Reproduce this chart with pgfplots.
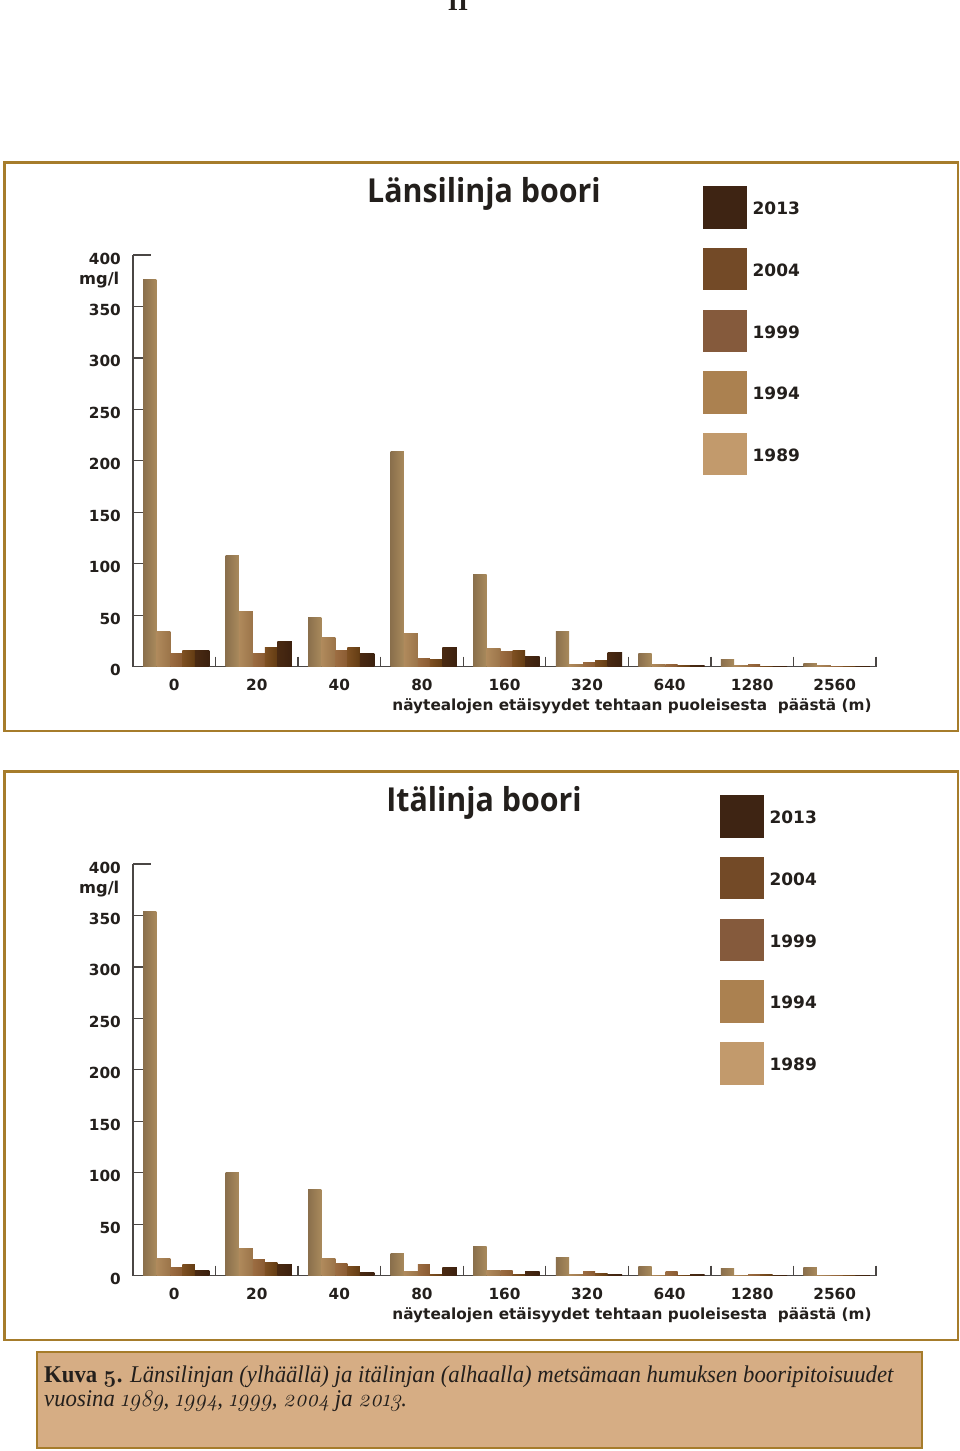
\documentclass[border=0pt]{standalone}
\usepackage{pgfplots}
\usepackage{pgfplotstable}
\usepackage{fontspec}
\pgfplotsset{compat=1.18}
\newfontfamily\dvb{DejaVu Sans Bold}
\newfontfamily\ttl{Open Sans}[BoldFont={Open Sans Bold}]
\newfontfamily\capf{Liberation Serif}
\newfontfamily\lmos{Latin Modern Roman}[Numbers=OldStyle]
\definecolor{frame}{HTML}{A67C2B}
\definecolor{capfill}{HTML}{D6AD84}
\definecolor{ink}{HTML}{231F1C}
\definecolor{axc}{HTML}{4A4644}
\definecolor{cA}{HTML}{C29A6C}
\definecolor{cB}{HTML}{AB8150}
\definecolor{cC}{HTML}{855A3C}
\definecolor{cD}{HTML}{734A27}
\definecolor{cE}{HTML}{3E2413}
\definecolor{a1}{HTML}{8A6F4C}\definecolor{a2}{HTML}{BA996C}\definecolor{a3}{HTML}{A98A5C}
\definecolor{b1}{HTML}{B08A5C}\definecolor{b2}{HTML}{AE8450}\definecolor{b3}{HTML}{9B7449}
\definecolor{c1}{HTML}{9C6D42}\definecolor{c2}{HTML}{94663B}\definecolor{c3}{HTML}{8A5B32}
\definecolor{d1}{HTML}{7E5022}\definecolor{d2}{HTML}{74481B}\definecolor{d3}{HTML}{633C13}
\definecolor{e1}{HTML}{4A2A12}\definecolor{e2}{HTML}{5A3617}\definecolor{e3}{HTML}{3C210F}
% Länsilinja: columns are the five bars of each distance group
\pgfplotstableread{
x s1 s2 s3 s4 s5
0.521 376 34 13 16 16
1.521 108 54 13 19 24
2.521 48 28 16 19 13
3.521 209 32 8 7 19
4.521 90 18 15 15.5 10
5.521 34 2 4 6.5 13.6
6.521 12.6 2 2.5 0.7 1
7.521 7 1 2 0.5 0.5
8.521 3 1 0.3 0.3 0.3
}\westtable
% Itälinja
\pgfplotstableread{
x s1 s2 s3 s4 s5
0.521 354 16.5 7.5 10.7 5.5
1.521 100 26 16 13 10.7
2.521 83.5 16.5 12 8.7 3
3.521 22 4 10.7 1 8.4
4.521 28 5 5 1.6 4.5
5.521 18 1 4 2 1.3
6.521 9.4 0.5 4.5 0.5 1
7.521 7 0.3 0.7 0.7 0.3
8.521 8 0.3 0.3 0.3 0.3
}\easttable
\pgfplotsset{
 panel/.style={
  scale only axis, width=743pt, height=411.7pt,
  xmin=0, xmax=9, ymin=0, ymax=400,
  axis x line*=bottom, axis y line*=left,
  axis line style={axc,line width=1.4pt,-},
  tick align=inside, major tick length=18pt, minor tick length=-10pt,
  tick style={axc,line width=1.3pt},
  major x tick style={draw=none},
  xtick={0.5,1.5,2.5,3.5,4.5,5.5,6.5,7.5,8.5},
  xticklabels={0,20,40,80,160,320,640,1280,2560},
  minor xtick={0,1,2,3,4,5,6,7,8,9},
  ytick={0,50,100,150,200,250,300,350,400},
  /pgf/number format/assume math mode=true,
  tick label style={font=\fontsize{15.3}{18}\dvb,text=ink},
  yticklabel style={anchor=east,xshift=-12pt,yshift=-3.5pt,inner sep=0pt},
  xticklabel style={anchor=center,yshift=0pt,inner sep=0pt},
  ybar, bar width=13.3pt,
  legend cell align=left,
  legend style={draw=none,fill=none,inner sep=0pt,anchor=north west,row sep=19.8pt,
    font=\fontsize{17}{18}\dvb,text=ink,
    nodes={inner sep=0pt},
    /tikz/column 1/.style={column sep=6.5pt},
    /tikz/column 2/.style={nodes={yshift=-2pt}}},
 },
 sA/.style={draw=none,left color=a1,middle color=a2,right color=a3},
 sB/.style={draw=none,left color=b1,middle color=b2,right color=b3},
 sC/.style={draw=none,left color=c1,middle color=c2,right color=c3},
 sD/.style={draw=none,left color=d1,middle color=d2,right color=d3},
 sE/.style={draw=none,left color=e1,middle color=e2,right color=e3},
}
% one \addplot per bar, so that each bar has its own cylinder shading
\newcommand{\seriesbars}[5]{%
 \pgfplotsinvokeforeach{0,1,2,3,4,5,6,7,8}{%
  \addplot[#3,forget plot,bar shift=#4,bar width=#5,
    skip coords between index={0}{##1},
    skip coords between index={\the\numexpr##1+1\relax}{9}]
    table[x=x,y=#2]{#1};
 }%
}
\newcommand{\swatch}[2]{%
 \addlegendimage{legend image code/.code={\fill[#1] (0pt,-20.75pt) rectangle (42.5pt,20.75pt);}}
 \addlegendentry{#2}
}
\newcommand{\series}[1]{%
 \seriesbars{#1}{s1}{sA}{-26.35pt}{13.3pt}
 \seriesbars{#1}{s2}{sB}{-12.7pt}{14pt}
 \seriesbars{#1}{s3}{sC}{0.3pt}{12pt}
 \seriesbars{#1}{s4}{sD}{12.55pt}{12.5pt}
 \seriesbars{#1}{s5}{sE}{26.05pt}{14.5pt}
 \swatch{cE}{2013}
 \swatch{cD}{2004}
 \swatch{cC}{1999}
 \swatch{cB}{1994}
 \swatch{cA}{1989}
}
\begin{document}
\begin{tikzpicture}[x=1pt,y=1pt]
\path[use as bounding box] (0,0) rectangle (960,1451);
\fill[white] (0,0) rectangle (960,1451);
\node[anchor=base,inner sep=0pt,font=\fontsize{26}{28}\capf\bfseries,text=ink] at (458,1451-11) {II};
% frames
\draw[frame,line width=2.2pt] (4.5,1451-162.5) rectangle (958,1451-731);
\draw[frame,line width=2.2pt] (4.5,1451-771.5) rectangle (958,1451-1340);
\draw[frame,line width=2pt,fill=capfill] (37,1451-1352.5) rectangle (922,1451-1448);
% upper panel
\begin{axis}[panel,at={(133pt,784.3pt)},anchor=south west,
  legend style={at={(0.7672,1.1676)}}]
\series{\westtable}
\end{axis}
\node[font=\fontsize{33}{36}\ttl\bfseries,text=ink] at (484,1451-194) {\scalebox{0.92}[1]{Länsilinja boori}};
\node[anchor=east,inner sep=0pt,font=\fontsize{16.3}{18}\dvb,text=ink] at (119.5,1451-280.5) {mg/l};
\node[inner sep=0pt,font=\fontsize{15.3}{18}\dvb,text=ink] at (632,1451-706.5) {näytealojen etäisyydet tehtaan puoleisesta\ \ päästä (m)};
% lower panel
\begin{axis}[panel,at={(133pt,175.3pt)},anchor=south west,
  legend style={at={(0.7900,1.1676)}}]
\series{\easttable}
\end{axis}
\node[font=\fontsize{33}{36}\ttl\bfseries,text=ink] at (484,1451-803) {\scalebox{0.92}[1]{Itälinja boori}};
\node[anchor=east,inner sep=0pt,font=\fontsize{16.3}{18}\dvb,text=ink] at (119.5,1451-889.5) {mg/l};
\node[inner sep=0pt,font=\fontsize{15.3}{18}\dvb,text=ink] at (632,1451-1315.5) {näytealojen etäisyydet tehtaan puoleisesta\ \ päästä (m)};
% caption
\node[anchor=base west,inner sep=0pt,font=\fontsize{24}{28}\capf,text=ink] at (44,1451-1383) {\scalebox{0.947}[1]{\textbf{Kuva {\lmos\bfseries 5}.} \textit{Länsilinjan (ylhäällä) ja itälinjan (alhaalla) metsämaan humuksen booripitoisuudet}}};
\node[anchor=base west,inner sep=0pt,font=\fontsize{24}{28}\capf,text=ink] at (44,1451-1407) {\scalebox{0.947}[1]{\textit{vuosina {\lmos 1989}, {\lmos 1994}, {\lmos 1999}, {\lmos 2004} ja {\lmos 2013}.}}};
\end{tikzpicture}
\end{document}
